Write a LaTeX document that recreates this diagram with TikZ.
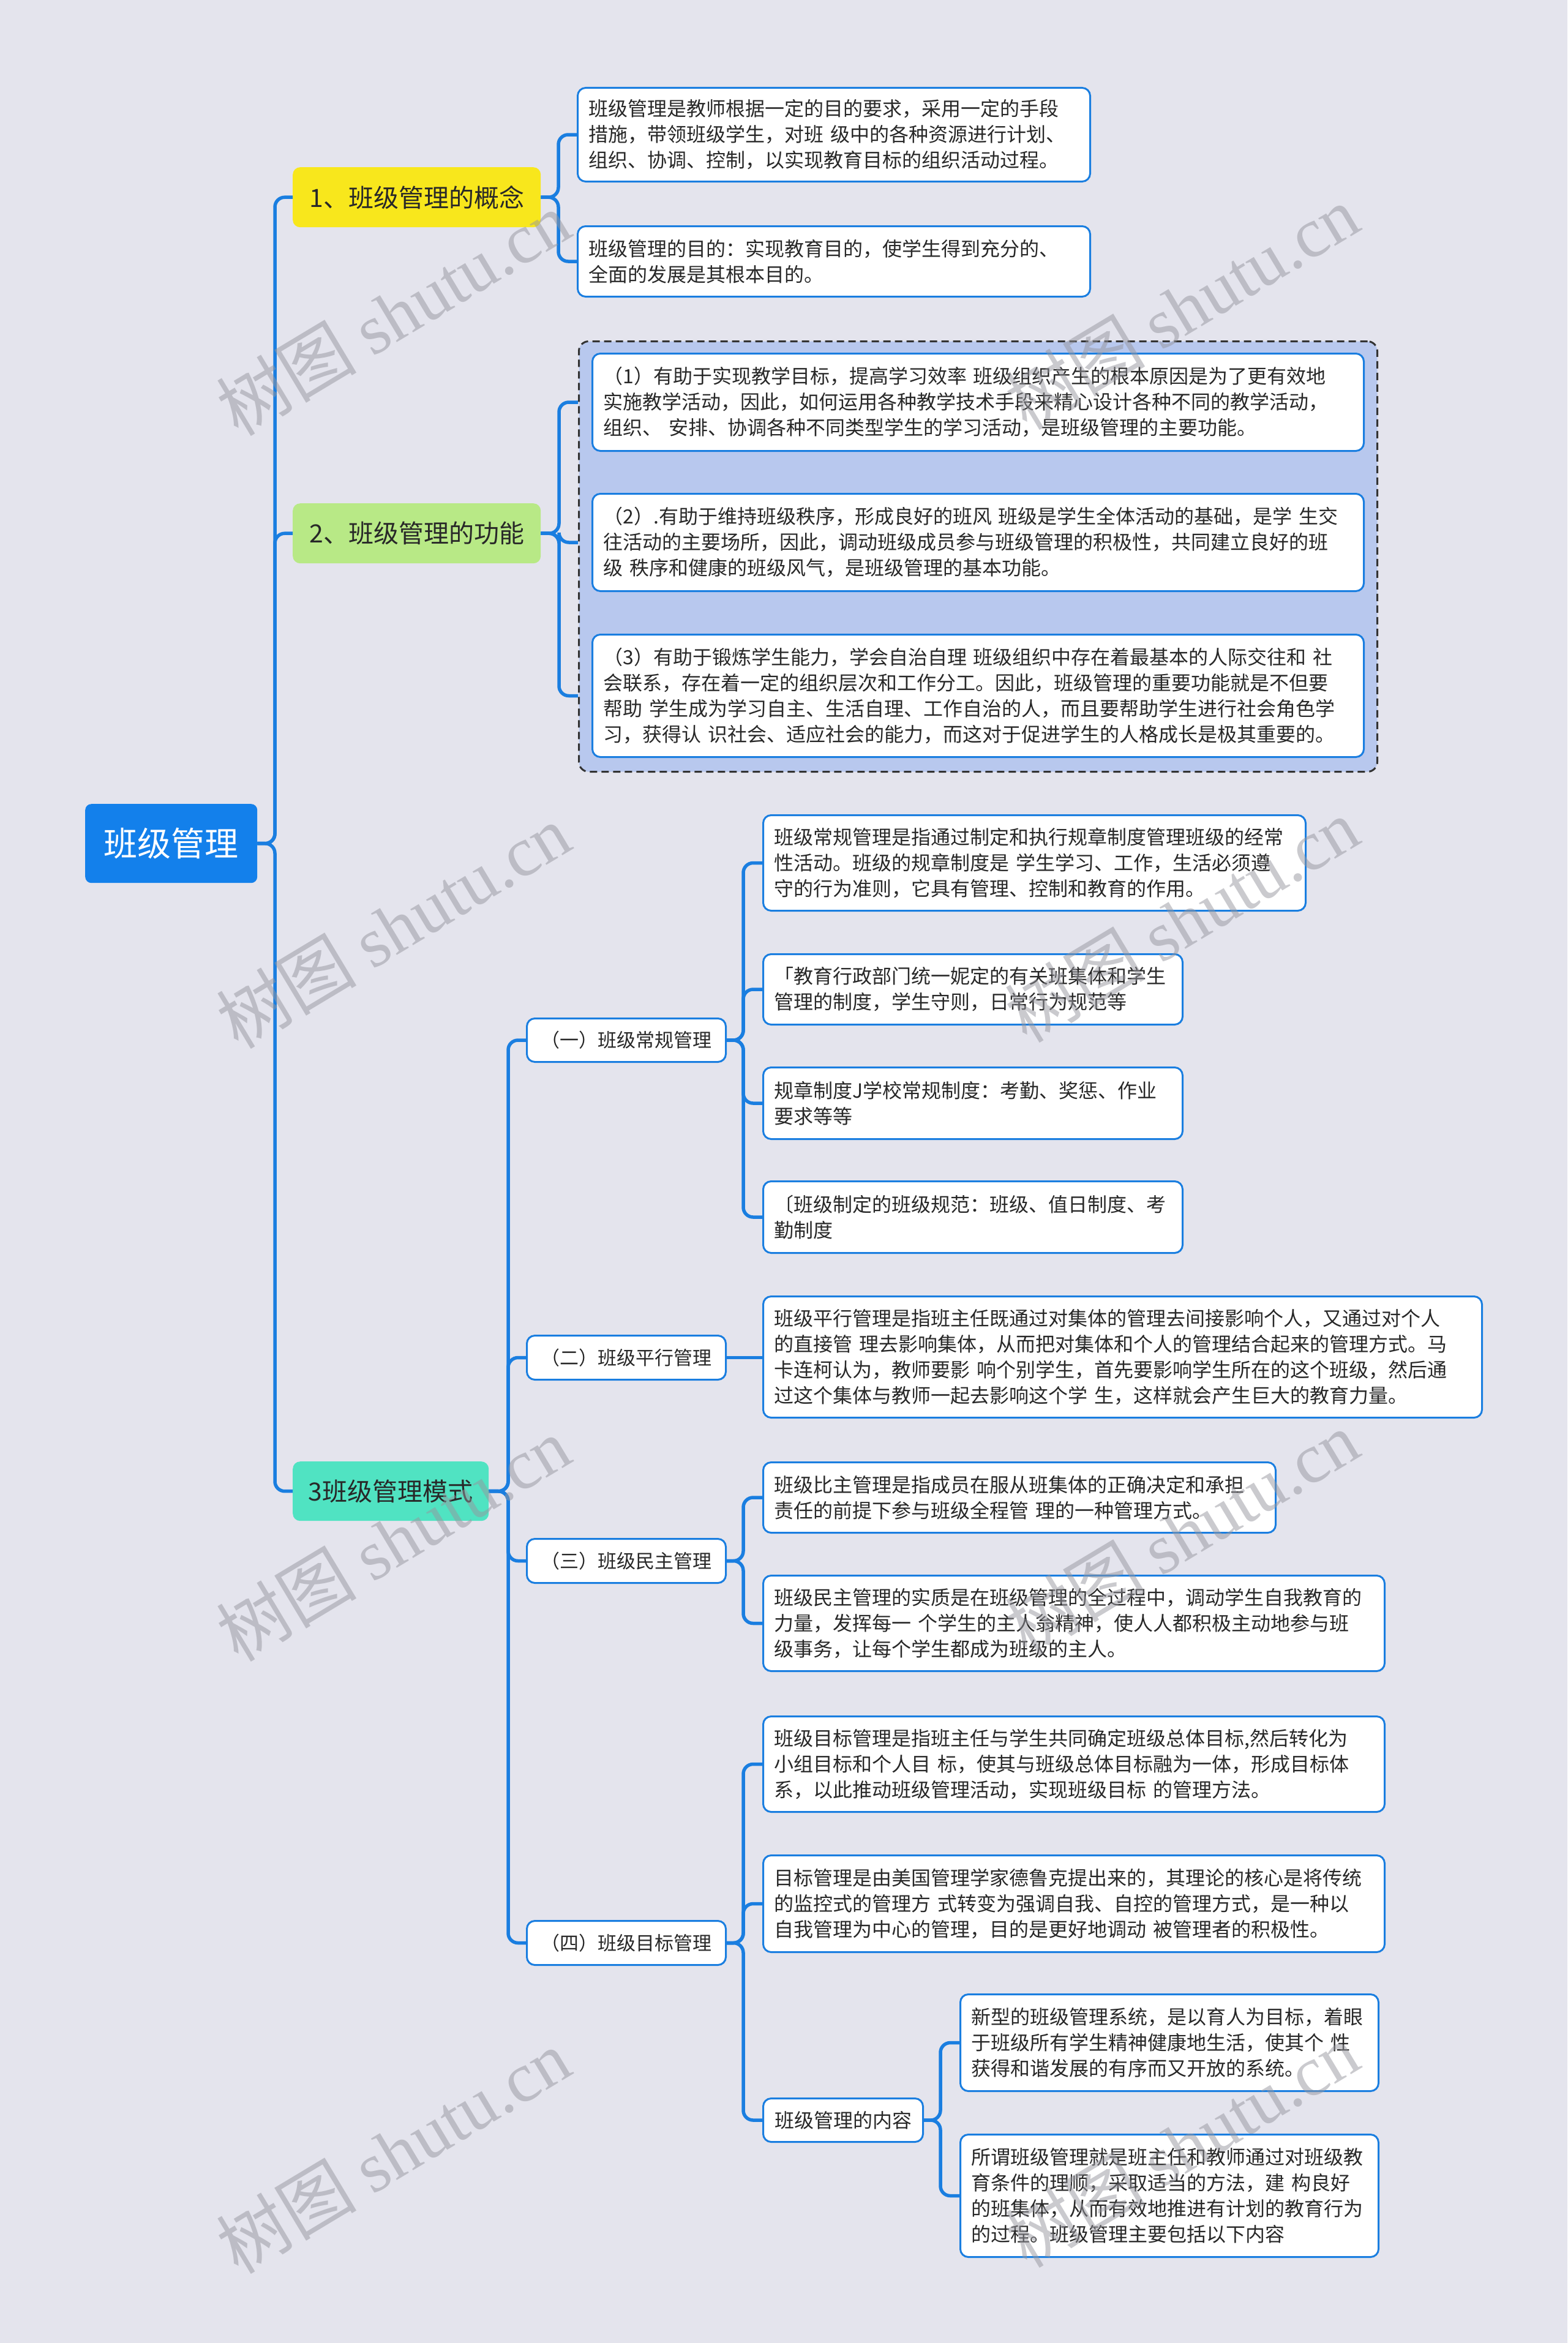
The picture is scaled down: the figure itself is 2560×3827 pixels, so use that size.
\documentclass[tikz,border=0pt]{standalone}
\usepackage{fontspec}
\setmainfont{Noto Sans CJK SC}
\newfontfamily\wmlat{Liberation Serif}
\definecolor{bgc}{RGB}{228,228,237}
\definecolor{cblue}{RGB}{26,126,224}
\definecolor{rootc}{RGB}{19,128,235}
\definecolor{yel}{RGB}{248,231,28}
\definecolor{grn}{RGB}{184,233,134}
\definecolor{teal}{RGB}{80,227,194}
\definecolor{grpc}{RGB}{184,200,238}
\definecolor{txtc}{RGB}{40,40,40}
\definecolor{wmc}{RGB}{150,150,158}
\begin{document}
\begin{tikzpicture}[x=1pt,y=-1pt,
 box/.style={draw=cblue, line width=3pt, fill=white, rounded corners=13pt, anchor=north west, align=left, inner xsep=18pt, inner ysep=0pt, text=txtc, font=\fontsize{32}{42}\selectfont},
 lab/.style={draw=cblue, line width=3pt, fill=white, rounded corners=13pt, anchor=north west, inner sep=0pt, text=txtc, font=\fontsize{31}{38}\selectfont},
 lone/.style={rounded corners=12pt, anchor=north west, inner sep=0pt, text=txtc, font=\fontsize{41}{48}\selectfont},
 conn/.style={draw=cblue, line width=5.5pt, rounded corners=16pt},
 wm/.style={text=wmc, opacity=0.5, rotate=31, font=\fontsize{115}{120}\selectfont}
]
\fill[bgc] (0,0) rectangle (2560,3827);
\useasboundingbox (0,0) rectangle (2560,3827);

% brace columns
\coordinate (b0) at (449,0);
\coordinate (b1) at (912,0);
\coordinate (b2) at (913,0);
\coordinate (b3) at (830,0);
\coordinate (b4) at (1214,0);
\coordinate (b5) at (1536,0);

% root and level 1
\node[anchor=north west, fill=rootc, rounded corners=10pt, minimum width=281pt, minimum height=129pt, inner sep=0pt, text=white, font=\fontsize{55}{60}\selectfont] (root) at (139,1313) {班级管理};
\node[lone, fill=yel, minimum width=405pt, minimum height=98pt] (c1) at (478,273) {1、班级管理的概念};
\node[lone, fill=grn, minimum width=405pt, minimum height=98pt] (c2) at (478,822) {2、班级管理的功能};
\node[lone, fill=teal, minimum width=320pt, minimum height=97pt] (c3) at (478,2387) {3班级管理模式};

% concept details
\node[box, text width=801pt, minimum height=153pt] (a1) at (942,142) {班级管理是教师根据一定的目的要求，采用一定的手段\\措施，带领班级学生，对班~级中的各种资源进行计划、\\组织、协调、控制，以实现教育目标的组织活动过程。};
\node[box, text width=801pt, minimum height=115pt] (a2) at (942,368) {班级管理的目的：实现教育目的，使学生得到充分的、\\全面的发展是其根本目的。};

% function group
\node[anchor=north west, draw=black!80, dashed, dash pattern=on 12pt off 7pt, line width=3pt, fill=grpc, rounded corners=16pt, minimum width=1304pt, minimum height=703pt, inner sep=0pt] (grp) at (944,556) {};
\node[box, text width=1224pt, minimum height=159pt] (f1) at (966,576) {（1）有助于实现教学目标，提高学习效率~班级组织产生的根本原因是为了更有效地\\实施教学活动，因此，如何运用各种教学技术手段来精心设计各种不同的教学活动，\\组织、~安排、协调各种不同类型学生的学习活动，是班级管理的主要功能。};
\node[box, text width=1224pt, minimum height=159pt] (f2) at (966,805) {（2）.有助于维持班级秩序，形成良好的班风~班级是学生全体活动的基础，是学~生交\\往活动的主要场所，因此，调动班级成员参与班级管理的积极性，共同建立良好的班\\级~秩序和健康的班级风气，是班级管理的基本功能。};
\node[box, text width=1224pt, minimum height=200pt] (f3) at (966,1035) {（3）有助于锻炼学生能力，学会自治自理~班级组织中存在着最基本的人际交往和~社\\会联系，存在着一定的组织层次和工作分工。因此，班级管理的重要功能就是不但要\\帮助~学生成为学习自主、生活自理、工作自治的人，而且要帮助学生进行社会角色学\\习，获得认~识社会、适应社会的能力，而这对于促进学生的人格成长是极其重要的。};

% mode level 2
\node[lab, minimum width=325pt, minimum height=71pt] (p1) at (859,1662) {（一）班级常规管理};
\node[lab, minimum width=325pt, minimum height=72pt] (p2) at (859,2180) {（二）班级平行管理};
\node[lab, minimum width=325pt, minimum height=72pt] (p3) at (859,2512) {（三）班级民主管理};
\node[lab, minimum width=325pt, minimum height=72pt] (p4) at (859,3136) {（四）班级目标管理};

% (一) details
\node[box, text width=850pt, minimum height=156pt] (d11) at (1245,1330) {班级常规管理是指通过制定和执行规章制度管理班级的经常\\性活动。班级的规章制度是~学生学习、工作，生活必须遵\\守的行为准则，它具有管理、控制和教育的作用。};
\node[box, text width=649pt, minimum height=115pt] (d12) at (1245,1557) {「教育行政部门统一妮定的有关班集体和学生\\管理的制度，学生守则，日常行为规范等};
\node[box, text width=649pt, minimum height=117pt] (d13) at (1245,1742) {规章制度J学校常规制度：考勤、奖惩、作业\\要求等等};
\node[box, text width=649pt, minimum height=117pt] (d14) at (1245,1928) {〔班级制定的班级规范：班级、值日制度、考\\勤制度};

% (二) detail
\node[box, text width=1138pt, minimum height=198pt] (d21) at (1245,2116) {班级平行管理是指班主任既通过对集体的管理去间接影响个人，又通过对个人\\的直接管~理去影响集体，从而把对集体和个人的管理结合起来的管理方式。马\\卡连柯认为，教师要影~响个别学生，首先要影响学生所在的这个班级，然后通\\过这个集体与教师一起去影响这个学~生，这样就会产生巨大的教育力量。};

% (三) details
\node[box, text width=801pt, minimum height=115pt] (d31) at (1245,2387) {班级比主管理是指成员在服从班集体的正确决定和承担\\责任的前提下参与班级全程管~理的一种管理方式。};
\node[box, text width=979pt, minimum height=156pt] (d32) at (1245,2572) {班级民主管理的实质是在班级管理的全过程中，调动学生自我教育的\\力量，发挥每一~个学生的主人翁精神，使人人都积极主动地参与班\\级事务，让每个学生都成为班级的主人。};

% (四) details
\node[box, text width=979pt, minimum height=156pt] (d41) at (1245,2802) {班级目标管理是指班主任与学生共同确定班级总体目标,然后转化为\\小组目标和个人目~标，使其与班级总体目标融为一体，形成目标体\\系，以此推动班级管理活动，实现班级目标~的管理方法。};
\node[box, text width=979pt, minimum height=158pt] (d42) at (1245,3029) {目标管理是由美国管理学家德鲁克提出来的，其理论的核心是将传统\\的监控式的管理方~式转变为强调自我、自控的管理方式，是一种以\\自我管理为中心的管理，目的是更好地调动~被管理者的积极性。};
\node[lab, minimum width=261pt, minimum height=71pt, font=\fontsize{32}{38}\selectfont] (d43) at (1245,3426) {班级管理的内容};
\node[box, text width=647pt, minimum height=158pt] (e1) at (1567,3256) {新型的班级管理系统，是以育人为目标，着眼\\于班级所有学生精神健康地生活，使其个~性\\获得和谐发展的有序而又开放的系统。};
\node[box, text width=647pt, minimum height=200pt] (e2) at (1567,3485) {所谓班级管理就是班主任和教师通过对班级教\\育条件的理顺，采取适当的方法，建~构良好\\的班集体，从而有效地推进有计划的教育行为\\的过程。班级管理主要包括以下内容};

% connectors
\foreach \c in {c1,c2,c3} \draw[conn] (root.east) -- (root.east -| b0) |- (\c.west);
\foreach \c in {a1,a2} \draw[conn] (c1.east) -- (c1.east -| b1) |- (\c.west);
\foreach \c in {f1,f2,f3} \draw[conn] (c2.east) -- (c2.east -| b2) |- (grp.west |- \c.west);
\foreach \c in {p1,p2,p3,p4} \draw[conn] (c3.east) -- (c3.east -| b3) |- (\c.west);
\foreach \c in {d11,d12,d13,d14} \draw[conn] (p1.east) -- (p1.east -| b4) |- (\c.west);
\draw[conn] (p2.east) -- (p2.east -| d21.west);
\foreach \c in {d31,d32} \draw[conn] (p3.east) -- (p3.east -| b4) |- (\c.west);
\foreach \c in {d41,d42,d43} \draw[conn] (p4.east) -- (p4.east -| b4) |- (\c.west);
\foreach \c in {e1,e2} \draw[conn] (d43.east) -- (d43.east -| b5) |- (\c.west);

% watermarks
\foreach \y in {512,1513,2514,3514} {
  \node[wm] (wl\y) at (642,\y) {树图 {\wmlat shutu.cn}};
  \node[wm] (wr\y) at (1930,\y-10) {树图 {\wmlat shutu.cn}};
}
\end{tikzpicture}
\end{document}
